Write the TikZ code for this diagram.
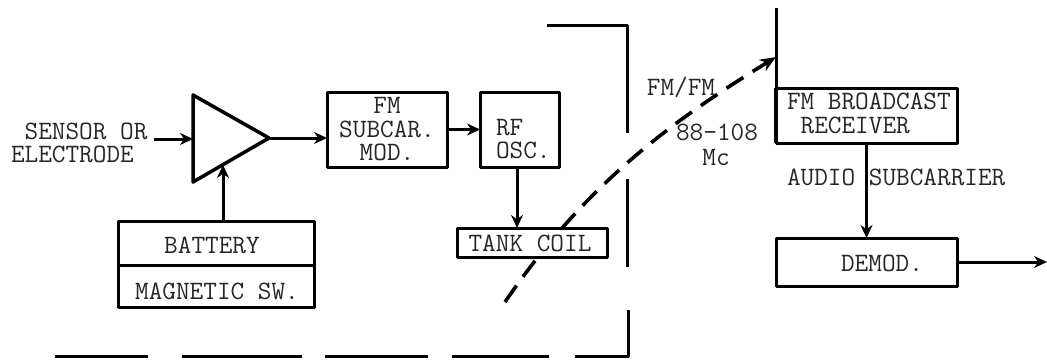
\documentclass[tikz,border=0pt]{standalone}
\usetikzlibrary{arrows.meta}
\tikzset{
  x=1pt,y=-1pt,
  blk/.style={draw=black,line width=3pt,fill=white,rectangle,inner sep=0pt,outer sep=0pt,line join=round},
  txt/.style={font=\ttfamily\fontsize{26.5}{23.5}\selectfont,inner sep=0pt,outer sep=0pt,text=black!85},
  conn/.style={line width=3pt,-{Stealth[length=13pt,width=12pt]}},
  wall/.style={line width=3pt},
  wave/.style={line width=3.6pt,dash pattern=on 20pt off 11pt,-{Stealth[length=16pt,width=13pt]}}
}
\begin{document}
\begin{tikzpicture}
\useasboundingbox (0,0) rectangle (1047,362);
% enclosure
\coordinate (e1) at (547,25); \coordinate (e2) at (627,25); \coordinate (e3) at (627,133);
\coordinate (e4) at (627,179); \coordinate (e5) at (627,267);
\coordinate (e6) at (628,310); \coordinate (e7) at (628,356); \coordinate (e8) at (575,356);
\coordinate (e9) at (549,356); \coordinate (e10) at (452,356);
\coordinate (e11) at (428,356); \coordinate (e12) at (325,356);
\coordinate (e13) at (302,356); \coordinate (e14) at (182,356);
\coordinate (e15) at (148,356); \coordinate (e16) at (55,356);
\draw[wall,line join=round] (e1) -- (e2) -- (e3);
\draw[wall] (e4) -- (e5);
\draw[wall,line join=round] (e6) -- (e7) -- (e8);
\draw[wall] (e9) -- (e10);
\draw[wall] (e11) -- (e12);
\draw[wall] (e13) -- (e14);
\draw[wall] (e15) -- (e16);
% radio link
\coordinate (wstart) at (505,302);
\coordinate (wend) at (776,57);
\draw[wave] (wstart) .. controls (587,182) and (674,120) .. (wend);
% amplifier
\coordinate (ampA) at (193,95); \coordinate (ampB) at (269,138); \coordinate (ampC) at (193,182);
\coordinate (ampin) at (193,139); \coordinate (ampbat) at (223,165);
\coordinate (sensor) at (154,139);
\draw[line width=3.5pt,line join=round] (ampA) -- (ampB) -- (ampC) -- cycle;
% blocks
\node[blk,minimum width=120pt,minimum height=75pt] (fm) at (387,129.5) {};
\node[blk,minimum width=79pt,minimum height=75pt] (rf) at (519.5,129.5) {};
\node[blk,minimum width=150pt,minimum height=29pt] (tank) at (532,242.5) {};
\node[blk,minimum width=196pt,minimum height=44pt] (batt) at (216,243) {};
\node[blk,minimum width=196pt,minimum height=42pt] (mag) at (216,286) {};
\node[blk,minimum width=181pt,minimum height=55pt] (rcv) at (866.5,115.5) {};
\node[blk,minimum width=181pt,minimum height=48pt] (dem) at (866.5,262) {};
\coordinate (ant) at (776,8);
\coordinate (outp) at (1047,262);
% connectors
\draw[line width=3pt] (ant) -- (rcv.north west);
\draw[line width=4pt] (rcv.north west) -- (rcv.south west);
\draw[conn] (sensor) -- (ampin);
\draw[conn] (ampB) -- (fm.west |- ampB);
\draw[conn] (fm.east) -- (rf.west);
\draw[conn] (rf.south -| 517,0) -- (tank.north -| 517,0);
\draw[conn] ([xshift=7pt]batt.north) -- (ampbat);
\draw[conn] (rcv.south) -- (dem.north);
\draw[conn] (dem.east) -- (outp);
% labels
\node[txt,align=left,anchor=west] (lsens) at (11,143) {\ SENSOR OR\\ELECTRODE};
\node[txt,align=center] (lfm) at (387,129.5) {FM\\SUBCAR.\\MOD.};
\node[txt,align=left,anchor=west] (lrf) at (496,139) {RF\\OSC.};
\node[txt] (ltank) at (530,243) {TANK COIL};
\node[txt] (lbatt) at (212,245) {BATTERY};
\node[txt] (lmag) at (217,291) {MAGNETIC SW.};
\node[txt] (lfmfm) at (681,87) {FM/FM};
\node[txt] (lband) at (717,132) {88-108};
\node[txt] (lmc) at (716,157) {Mc};
\node[txt,align=left,anchor=west] (lrcv) at (787,113.5) {FM BROADCAST\\\ RECEIVER};
\node[txt,anchor=west] (laud) at (787,177) {AUDIO SUBCARRIER};
\node[txt] (ldem) at (882,263) {DEMOD.};
\end{tikzpicture}
\end{document}
